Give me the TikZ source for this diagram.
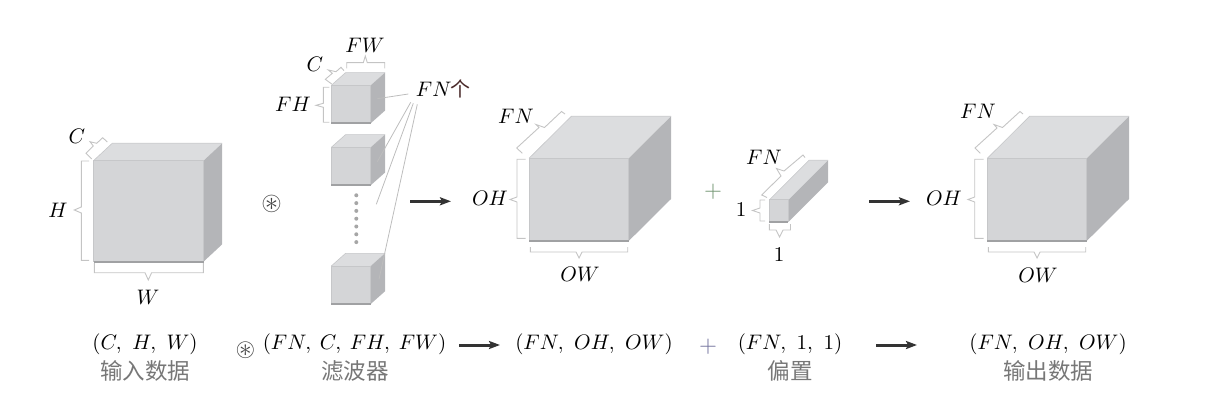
\documentclass[tikz,border=0pt]{standalone}
\usepackage[no-math]{fontspec}
\usepackage{amssymb}
\usetikzlibrary{arrows.meta}
\newfontfamily\cjk{Noto Sans CJK SC}
\definecolor{cfront}{HTML}{D4D5D7}
\definecolor{ctop}{HTML}{DCDDDF}
\definecolor{cside}{HTML}{B4B5B8}
\definecolor{cedge}{HTML}{C6C7C9}
\definecolor{cbase}{HTML}{A0A1A3}
\definecolor{cbrk}{HTML}{C4C4C4}
\definecolor{cleader}{HTML}{BDBDBD}
\definecolor{ctext}{HTML}{000000}
\definecolor{ccap}{HTML}{777777}
\definecolor{cge}{HTML}{4A2A2A}
\tikzset{
  lab/.style={inner sep=0pt,text=ctext,scale=2.1},
  captext/.style={inner sep=0pt,text=ccap,font=\fontsize{22.5}{24}\selectfont\cjk},
  brk/.style={draw=cbrk,line width=0.9pt,line join=miter},
  leader/.style={draw=cleader,line width=0.8pt},
  bigarrow/.style={draw=black!80,line width=3pt,-{Stealth[length=11pt,width=8pt,inset=2pt]}},
  dotmark/.style={fill=black!35,draw=none},
}
% x y w h dx dy (y grows downward)
\newcommand\cubeshape[6]{%
  \fill[cfront] (#1,#2) -- ++(#3,0) -- ++(0,#4) -- ++(-#3,0) -- cycle;
  \fill[ctop] (#1,#2) -- ++(#5,-#6) -- ++(#3,0) -- ++(-#5,#6) -- cycle;
  \fill[cside] (#1,#2) ++(#3,0) -- ++(#5,-#6) -- ++(0,#4) -- ++(-#5,#6) -- cycle;
  \draw[cedge,line width=1pt] (#1,#2) ++(0,#4) -- ++(0,-#4) -- ++(#3,0) -- ++(0,#4);
  \draw[cedge,line width=0.6pt] (#1,#2) -- ++(#5,-#6) -- ++(#3,0);
  \draw[cbase,line width=1.8pt] (#1,#2) ++(0,#4) -- ++(#3,0);
}
\begin{document}
\begin{tikzpicture}[x=1pt,y=-1pt]
\useasboundingbox (0,0) rectangle (1207,414);
% cubes
\cubeshape{93.5}{160.7}{110}{101}{18.7}{17.4}
\cubeshape{331.3}{85.3}{39.4}{38}{14.3}{12.7}
\cubeshape{331.3}{147.3}{39.4}{38}{14.3}{12.7}
\cubeshape{331.3}{266}{39.4}{38}{14.3}{12.7}
\cubeshape{529}{158.3}{99.7}{82.7}{42.3}{42}
\cubeshape{769.3}{200}{19}{22}{39.7}{39.7}
\cubeshape{987.3}{158.3}{99.4}{82.7}{42.3}{42}
% brackets, first cube
\draw[brk] (91.7,159) -- (86,153.3) -- (93.3,146) -- (90,141.7) -- (96.7,143.3) -- (102.7,137.7) -- (107.3,142);
\draw[brk] (89,161) -- (81.3,161) -- (81.3,207) -- (74.3,210) -- (81.3,213) -- (81.3,260.3) -- (89,260.3);
\draw[brk] (94.3,263) -- (94.3,272.7) -- (145,272.7) -- (148.3,280) -- (151.6,272.7) -- (203.3,272.7) -- (203.3,263);
% brackets, filter
\draw[brk] (346.7,68.3) -- (346.7,62.7) -- (363.3,62.7) -- (365.3,56) -- (367.3,62.7) -- (384.7,62.7) -- (384.7,68.3);
\draw[brk] (331.7,84) -- (325.3,79.3) -- (332.3,73.3) -- (328.3,70) -- (336,71.7) -- (341,67.3) -- (344,70.7);
\draw[brk] (329.3,87.3) -- (323.3,87.3) -- (323.3,103.3) -- (316,105.3) -- (323.3,107.3) -- (323.3,122.3) -- (329.3,122.3);
% brackets, middle cube
\draw[brk] (522.3,153.3) -- (516.7,148) -- (539,127.5) -- (536,124.5) -- (544.5,127.5) -- (561.5,111.5) -- (565,114);
\draw[brk] (525.7,159.3) -- (517,159.3) -- (517,197) -- (510,199.5) -- (517,202) -- (517,238.3) -- (525.7,238.3);
\draw[brk] (530.3,247) -- (530.3,252) -- (576,252) -- (579,258) -- (582,252) -- (627.7,252) -- (627.7,247);
% brackets, bias
\draw[brk] (767,197.5) -- (761.7,195) -- (781,176) -- (776.5,168.5) -- (784,171) -- (803,155) -- (805,157.5);
\draw[brk] (765,200) -- (760,200) -- (760,208) -- (752.5,210.5) -- (760,213) -- (760,221) -- (765,221);
\draw[brk] (769.3,224) -- (769.3,230) -- (776,230) -- (779.5,237) -- (783,230) -- (790.5,230) -- (790.5,224);
% brackets, last cube
\draw[brk] (980.3,153.3) -- (975,148) -- (997,128) -- (994,124.5) -- (1002.5,127.5) -- (1020,111.5) -- (1023,114);
\draw[brk] (983.7,159.3) -- (974.7,159.3) -- (974.7,197) -- (968,199.5) -- (974.7,202) -- (974.7,238.3) -- (983.7,238.3);
\draw[brk] (988.3,247) -- (988.3,252) -- (1034,252) -- (1037,258) -- (1040,252) -- (1085.7,252) -- (1085.7,247);
% labels in the drawing
\node[lab] (lC) at (77,136) {$C$};
\node[lab] (lH) at (58,210) {$H$};
\node[lab] (lW) at (148,297) {$W$};
\node[lab] (lFW) at (365,45) {$FW$};
\node[lab] (lfC) at (315,64) {$C$};
\node[lab] (lFH) at (293,104) {$FH$};
\node[lab,anchor=west] (lFN) at (415.5,89) {$FN$\hspace{-0.5pt}{\cjk\fontsize{9.5}{10}\selectfont\color{cge}个}};
\node[lab] (mOH) at (490,198) {$OH$};
\node[lab] (mOW) at (580,274) {$OW$};
\node[lab] (mFN) at (516,116) {$FN$};
\node[lab] (bFN) at (764,157) {$FN$};
\node[lab] (b1a) at (741,210) {$1$};
\node[lab] (b1b) at (779,255) {$1$};
\node[lab] (oOH) at (944,198) {$OH$};
\node[lab] (oOW) at (1038,275) {$OW$};
\node[lab] (oFN) at (978,111) {$FN$};
% operators
\node[lab,text=black!75,scale=1.25] (op1) at (271.7,203.7) {$\circledast$};
\node[lab,text=black!75,scale=1.2] (op2) at (245.5,350) {$\circledast$};
\node[lab,text=green!25!black!55,scale=1.1] (pl1) at (713,192) {$+$};
\node[lab,text=blue!30!black!55,scale=1.1] (pl2) at (708,347) {$+$};
% leader lines
\coordinate (e1) at (377.3,98.7);
\coordinate (e2) at (377.3,161.7);
\coordinate (e3) at (376.3,204.3);
\coordinate (e4) at (379,279.3);
\coordinate (s1) at (408.3,94);
\coordinate (s2) at (410.7,102.3);
\coordinate (s3) at (413.3,103.3);
\coordinate (s4) at (417.3,104.3);
\draw[leader] (s1) -- (e1);
\draw[leader] (s2) -- (e2);
\draw[leader] (s3) -- (e3);
\draw[leader] (s4) -- (e4);
% dots
\foreach \k in {0,...,6} \fill[dotmark] (356.3,195.3+7.8*\k) circle[radius=2];
% arrows
\coordinate (a1s) at (410,201.3); \coordinate (a1e) at (451,201.3);
\coordinate (a2s) at (869,201.3); \coordinate (a2e) at (910,201.3);
\coordinate (a3s) at (459,345); \coordinate (a3e) at (500,345);
\coordinate (a4s) at (876,345); \coordinate (a4e) at (917,345);
\draw[bigarrow] (a1s) -- (a1e);
\draw[bigarrow] (a2s) -- (a2e);
\draw[bigarrow] (a3s) -- (a3e);
\draw[bigarrow] (a4s) -- (a4e);
% bottom row
\node[lab] (t1) at (145,344.5) {$(C,\ H,\ W)$};
\node[captext] (c1) at (145,371) {输入数据};
\node[lab] (t2) at (354.5,344.5) {$(FN,\hspace{2.5pt}C,\hspace{2.5pt}FH,\hspace{2.5pt}FW)$};
\node[captext] (c2) at (355,371) {滤波器};
\node[lab] (t3) at (594,344.5) {$(FN,\ OH,\ OW)$};
\node[lab] (t4) at (790,344.5) {$(FN,\ 1,\ 1)$};
\node[captext] (c4) at (790,371) {偏置};
\node[lab] (t5) at (1048,344.5) {$(FN,\ OH,\ OW)$};
\node[captext] (c5) at (1048,371) {输出数据};
\end{tikzpicture}
\end{document}
